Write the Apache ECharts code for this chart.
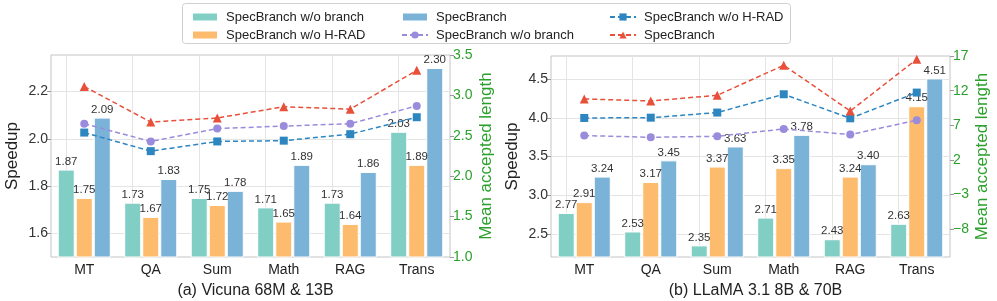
<!DOCTYPE html>
<html>
<head>
<meta charset="utf-8">
<script src="https://cdn.jsdelivr.net/npm/echarts@6/dist/echarts.min.js"></script>
<style>html,body{margin:0;padding:0;background:#fff;}#c{width:997px;height:301px;}</style>
</head>
<body>
<div id="c"></div>
<script>
// ---- data ----
const categories = ['MT', 'QA', 'Sum', 'Math', 'RAG', 'Trans'];

// (a) Vicuna 68M & 13B : speedup bars
const vicunaNoBranch = [1.87, 1.73, 1.75, 1.71, 1.73, 2.03];
const vicunaNoHRAD   = [1.75, 1.67, 1.72, 1.65, 1.64, 1.89];
const vicunaFull     = [2.09, 1.83, 1.78, 1.89, 1.86, 2.30];
// (a) mean accepted length lines
const vicunaLenNoHRAD   = [2.54, 2.31, 2.43, 2.44, 2.52, 2.73];
const vicunaLenNoBranch = [2.65, 2.43, 2.59, 2.62, 2.65, 2.87];
const vicunaLenFull     = [3.11, 2.67, 2.72, 2.86, 2.83, 3.31];

// (b) LLaMA 3.1 8B & 70B : speedup bars
const llamaNoBranch = [2.77, 2.53, 2.35, 2.71, 2.43, 2.63];
const llamaNoHRAD   = [2.91, 3.17, 3.37, 3.35, 3.24, 4.15];
const llamaFull     = [3.24, 3.45, 3.63, 3.78, 3.40, 4.51];
// (b) mean accepted length lines
const llamaLenNoHRAD   = [8.06, 8.10, 8.84, 11.48, 8.01, 11.72];
const llamaLenNoBranch = [5.52, 5.27, 5.42, 6.47, 5.66, 7.73];
const llamaLenFull     = [10.80, 10.51, 11.33, 15.66, 9.07, 16.53];

// tick labels
const vicunaSpeedTicks = [1.6, 1.8, 2.0, 2.2];
const vicunaLenTicks = [1.0, 1.5, 2.0, 2.5, 3.0, 3.5];
const llamaSpeedTicks = [2.5, 3.0, 3.5, 4.0, 4.5];
const llamaLenTicks = [-8, -3, 2, 7, 12, 17];

const titles = ['(a) Vicuna 68M & 13B', '(b) LLaMA 3.1 8B & 70B'];

// ---- style ----
const FONT = "'Liberation Sans', Arial, sans-serif";
const C_TEAL = '#81cec5', C_ORANGE = '#fdbb6e', C_BLUE = '#7bb2d8';
const C_SQ = '#2e86c1', C_PUR = '#9b8bdc', C_RED = '#e8503a';
const GREEN = '#2ca02c';
const GRID_LINE = '#e4e4e4';

const chart = echarts.init(document.getElementById('c'), null, {renderer: 'canvas'});

function minus(v) { return v < 0 ? '\u2212' + Math.abs(v) : String(v); }

function barSeries(name, data, gi, color, withGrid) {
  const s = {
    name: name, type: 'bar', xAxisIndex: gi, yAxisIndex: gi * 2,
    data: data, barWidth: 17, barGap: '6%',
    itemStyle: {color: color, borderColor: '#fff', borderWidth: 1},
    label: {show: true, position: 'top', distance: 2, fontSize: 11.5, color: '#333',
            fontFamily: FONT, formatter: p => p.value.toFixed(2)},
    z: 2
  };
  if (withGrid) {
    s.markLine = {
      silent: true, symbol: 'none', label: {show: false},
      lineStyle: {color: GRID_LINE, type: 'solid', width: 1},
      emphasis: {disabled: true},
      data: categories.map(c => ({xAxis: c})),
      z: 0
    };
  }
  return s;
}
function lineSeries(name, data, gi, color, symbol, size) {
  return {
    name: name, type: 'line', xAxisIndex: gi, yAxisIndex: gi * 2 + 1,
    data: data, symbol: symbol, symbolSize: size,
    lineStyle: {color: color, width: 1.5, type: [5, 3]},
    itemStyle: {color: color},
    z: 5
  };
}

function speedAxis(gi, min, max, ticks) {
  return {
    type: 'value', gridIndex: gi, position: 'left', min: min, max: max,
    name: 'Speedup', nameLocation: 'middle', nameGap: 30, nameRotate: 90,
    nameTextStyle: {fontSize: 17, color: '#222', fontFamily: FONT},
    axisLine: {show: false},
    axisTick: {show: true, length: 4, lineStyle: {color: '#999'}, customValues: ticks},
    axisLabel: {fontSize: 14, color: '#333', fontFamily: FONT, margin: 3,
                customValues: ticks, formatter: v => v.toFixed(1)},
    splitLine: {show: true, lineStyle: {color: GRID_LINE, width: 1}}
  };
}
function lenAxis(gi, min, max, ticks, fmt, gap) {
  return {
    type: 'value', gridIndex: gi, position: 'right', min: min, max: max,
    name: 'Mean accepted length', nameLocation: 'middle', nameGap: gap, nameRotate: 90,
    nameTextStyle: {fontSize: 17, color: GREEN, fontFamily: FONT},
    axisLine: {show: false},
    axisTick: {show: true, length: 4, lineStyle: {color: '#999'}, customValues: ticks},
    axisLabel: {fontSize: 14, color: GREEN, fontFamily: FONT, margin: 3,
                customValues: ticks, formatter: fmt},
    splitLine: {show: false}
  };
}
function catAxis(gi) {
  return {
    type: 'category', gridIndex: gi, data: categories, boundaryGap: true,
    axisLine: {show: false}, axisTick: {show: false},
    axisLabel: {fontSize: 14, color: '#222', fontFamily: FONT, margin: 6},
    splitLine: {show: false}
  };
}

const legendCommon = {
  orient: 'vertical', itemWidth: 26, itemHeight: 9, itemGap: 4,
  textStyle: {fontSize: 13, color: '#222', fontFamily: FONT, lineHeight: 14, padding: [0, 0, 0, 3]},
  formatter: n => n.replace(/^L:/, ''),
  selectedMode: false
};

const option = {
  animation: false,
  backgroundColor: '#fff',
  textStyle: {fontFamily: FONT},
  title: [
    {text: titles[0], left: 250.5, top: 278, textAlign: 'center',
     textStyle: {fontSize: 16, fontWeight: 'normal', color: '#222', fontFamily: FONT}},
    {text: titles[1], left: 750.5, top: 278, textAlign: 'center',
     textStyle: {fontSize: 16, fontWeight: 'normal', color: '#222', fontFamily: FONT}}
  ],
  graphic: [{
    type: 'rect', left: 182, top: 3, z: -1,
    shape: {width: 608, height: 40, r: 3},
    style: {fill: '#fff', stroke: '#d0d0d0', lineWidth: 1}
  }],
  legend: [
    Object.assign({}, legendCommon, {left: 186, top: 5,
      data: [{name: 'SpecBranch w/o branch', icon: 'rect'}, {name: 'SpecBranch w/o H-RAD', icon: 'rect'}]}),
    Object.assign({}, legendCommon, {left: 396, top: 5,
      data: [{name: 'SpecBranch', icon: 'rect'}, {name: 'L:SpecBranch w/o branch'}]}),
    Object.assign({}, legendCommon, {left: 604, top: 5,
      data: [{name: 'L:SpecBranch w/o H-RAD'}, {name: 'L:SpecBranch'}]})
  ],
  grid: [
    {left: 51, top: 55, width: 399, height: 202, show: true, borderColor: '#c4c4c4', borderWidth: 1, backgroundColor: 'transparent'},
    {left: 551, top: 56, width: 399, height: 201, show: true, borderColor: '#c4c4c4', borderWidth: 1, backgroundColor: 'transparent'}
  ],
  xAxis: [catAxis(0), catAxis(1)],
  yAxis: [
    speedAxis(0, 1.5, 2.355, vicunaSpeedTicks),
    lenAxis(0, 1.0, 3.5, vicunaLenTicks, v => v.toFixed(1), 28),
    speedAxis(1, 2.2, 4.8, llamaSpeedTicks),
    lenAxis(1, -12, 17, llamaLenTicks, minus, 24)
  ],
  series: [
    barSeries('SpecBranch w/o branch', vicunaNoBranch, 0, C_TEAL, true),
    barSeries('SpecBranch w/o H-RAD', vicunaNoHRAD, 0, C_ORANGE, false),
    barSeries('SpecBranch', vicunaFull, 0, C_BLUE, false),
    lineSeries('L:SpecBranch w/o H-RAD', vicunaLenNoHRAD, 0, C_SQ, 'rect', 8),
    lineSeries('L:SpecBranch w/o branch', vicunaLenNoBranch, 0, C_PUR, 'circle', 8),
    lineSeries('L:SpecBranch', vicunaLenFull, 0, C_RED, 'triangle', 9),

    barSeries('SpecBranch w/o branch', llamaNoBranch, 1, C_TEAL, true),
    barSeries('SpecBranch w/o H-RAD', llamaNoHRAD, 1, C_ORANGE, false),
    barSeries('SpecBranch', llamaFull, 1, C_BLUE, false),
    lineSeries('L:SpecBranch w/o H-RAD', llamaLenNoHRAD, 1, C_SQ, 'rect', 8),
    lineSeries('L:SpecBranch w/o branch', llamaLenNoBranch, 1, C_PUR, 'circle', 8),
    lineSeries('L:SpecBranch', llamaLenFull, 1, C_RED, 'triangle', 9)
  ]
};
chart.setOption(option);
</script>
</body>
</html>
